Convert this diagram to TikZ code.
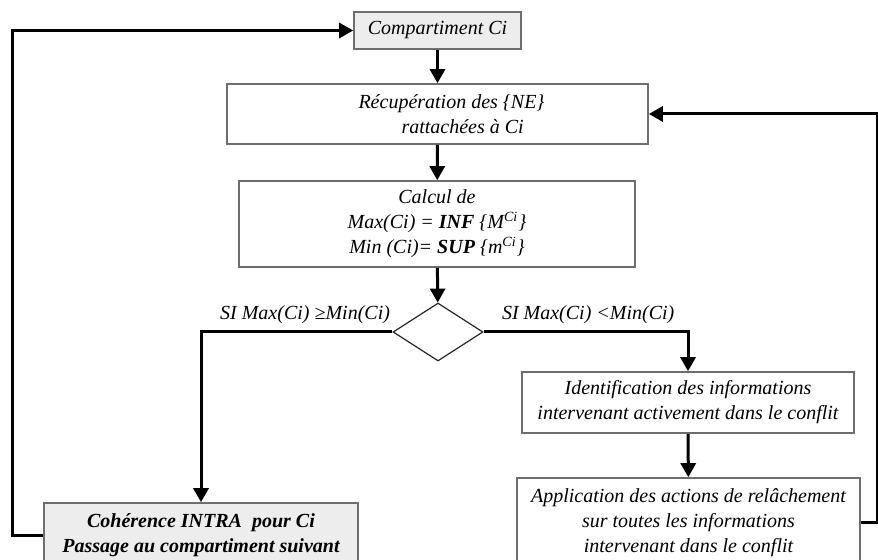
\documentclass[tikz,border=0pt]{standalone}
\usepackage{fontspec}
\setmainfont{Liberation Serif}
\usetikzlibrary{arrows.meta,shapes.geometric}
\definecolor{boxedge}{HTML}{6E6E6E}
\definecolor{boxfill}{HTML}{EDEDED}
\tikzset{
  box/.style   ={draw=boxedge,line width=0.8pt,fill=white,align=center,inner sep=2pt,font=\fontsize{10}{12.5}\selectfont\itshape},
  shaded/.style={box,fill=boxfill},
  dec/.style   ={diamond,draw=black!85,line width=0.6pt,fill=white,inner sep=0pt,minimum width=45pt,minimum height=29pt},
  arr/.style   ={-{Triangle[length=7pt,width=7.5pt]},line width=1.5pt,draw=black},
  lbl/.style   ={font=\fontsize{10}{12}\selectfont\itshape,inner sep=1pt},
}
\begin{document}
\begin{tikzpicture}[x=0.5pt,y=-0.5pt]
  \useasboundingbox (0,0) rectangle (878,560);
  \clip (0,0) rectangle (878,560);

  \node[shaded, minimum width=83.5pt, minimum height=18.5pt] (comp) at (437.5,30.5) {Compartiment Ci};
  \node[box, minimum width=210.5pt, minimum height=30pt, align=left] (recup) at (437.5,114)
    {\hspace*{14pt}Récupération des \{NE\}\\\hspace*{35.5pt}rattachées à Ci};
  \node[box, minimum width=198pt, minimum height=43pt] (calc) at (437,224)
    {Calcul de\\Max(Ci) = \textbf{INF} \{M\textsuperscript{Ci}\}\\Min (Ci)= \textbf{SUP} \{m\textsuperscript{Ci}\}};
  \node[dec] (test) at (438,332) {};
  \node[box, minimum width=166pt, minimum height=30.5pt] (ident) at (688,402.5)
    {Identification des informations\\intervenant activement dans le conflit};
  \node[box, minimum width=171.5pt, minimum height=45pt] (appl) at (688.5,523)
    {Application des actions de relâchement\\sur toutes les informations\\intervenant dans le conflit};
  \node[shaded, minimum width=157pt, minimum height=32.5pt, font=\fontsize{10}{12.5}\selectfont\bfseries\itshape] (coher) at (201,535.5)
    {Cohérence INTRA\ \ pour Ci\\Passage au compartiment suivant};

  \node[lbl, anchor=south east] (ok) at ([yshift=3pt]test.west) {SI Max(Ci) ≥Min(Ci)};
  \node[lbl, anchor=south west] (ko) at ([xshift=8pt,yshift=3pt]test.east) {SI Max(Ci) <Min(Ci)};

  \draw[arr] (comp) -- (recup);
  \draw[arr] (recup) -- (calc);
  \draw[arr] (calc) -- (test);
  \draw[arr] (test.west) -| (coher.north);
  \draw[arr] (test.east) -| (ident.north);
  \draw[arr] (ident) -- (appl);
  \draw[arr] (coher.west) -- ++(-31,0) |- (comp.west);
  \draw[arr] (appl.east) -- ++(16.5,0) |- (recup.east);
\end{tikzpicture}
\end{document}
